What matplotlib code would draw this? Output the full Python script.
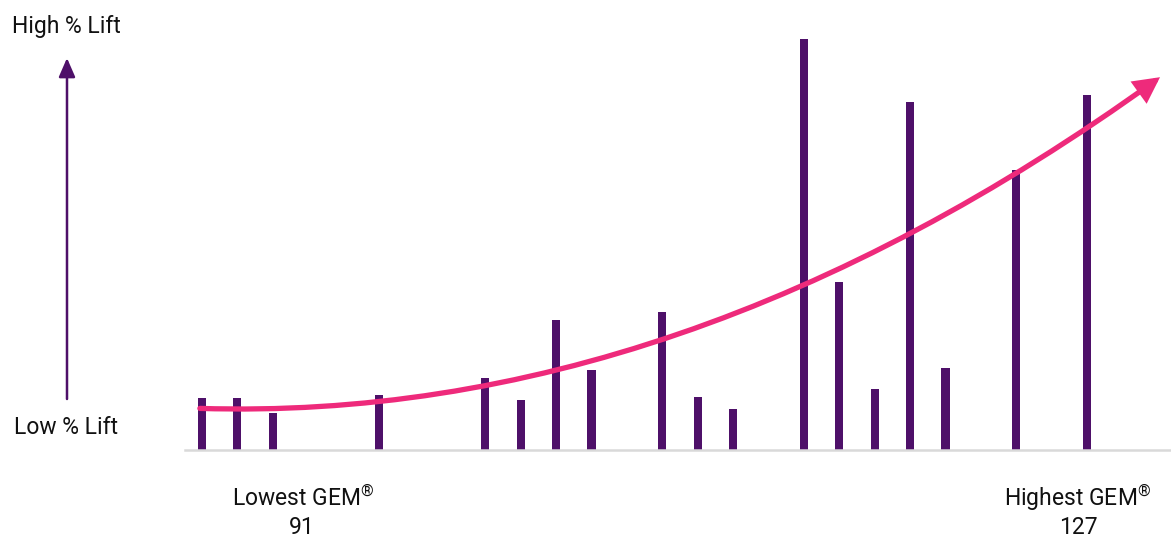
import matplotlib
matplotlib.use("Agg")
import matplotlib.pyplot as plt
from matplotlib.path import Path
from matplotlib.patches import FancyArrowPatch

plt.rcParams['font.family'] = ['Roboto', 'DejaVu Sans']
plt.rcParams['mathtext.fontset'] = 'custom'
plt.rcParams['mathtext.rm'] = 'Roboto'
plt.rcParams['mathtext.it'] = 'Roboto'
plt.rcParams['mathtext.bf'] = 'Roboto'

# Data (positions along GEM scale, relative lift heights)
bar_pos = [0, 1, 2, 5, 8, 9, 10, 11, 13, 14, 15, 17, 18, 19, 20, 21, 23, 25]
bar_lift = [52, 52, 37, 55, 72, 50, 130, 80, 138, 53, 41, 411, 168, 61, 348, 82, 280, 355]

# Trend curve (quadratic): start, control, end points
trend_start = (-0.06, 41.6)
trend_ctrl = (13.5, 26.6)
trend_end = (27.06, 372.8)

left_label = ["Lowest GEM$^{®}$", "91"]
right_label = ["Highest GEM$^{®}$", "127"]
y_high = "High % Lift"
y_low = "Low % Lift"

PURPLE = "#4E1069"
PINK = "#EE2A7B"

W, H = 1171, 539
fig = plt.figure(figsize=(W / 100, H / 100), dpi=100)
ax = fig.add_axes([185 / W, (H - 450) / H, 986 / W, 450 / H])
ax.set_xlim(-0.48, 27.37)
ax.set_ylim(0, 450)

ax.bar(bar_pos, bar_lift, width=0.23, color=PURPLE, zorder=2)

curve = Path([trend_start, trend_ctrl, trend_end],
             [Path.MOVETO, Path.CURVE3, Path.CURVE3])
curve_px = ax.transData.transform_path(curve)
arrow = FancyArrowPatch(path=curve_px, transform=None,
                        arrowstyle="-|>,head_length=5,head_width=2.6",
                        mutation_scale=2.6, color=PINK, lw=3.8,
                        capstyle='round', joinstyle='miter', zorder=3)
fig.patches.append(arrow)

for s in ['top', 'right', 'left']:
    ax.spines[s].set_visible(False)
ax.spines['bottom'].set_color('#D9D9D9')
ax.spines['bottom'].set_linewidth(1.8)
ax.set_xticks([])
ax.set_yticks([])
ax.patch.set_alpha(0)

# Vertical lift arrow
fig.patches.append(FancyArrowPatch(
    (67 / W, 1 - 399 / H), (67 / W, 1 - 58 / H), transform=fig.transFigure,
    arrowstyle="-|>,head_length=4.6,head_width=2.0", color=PURPLE, lw=1.8,
    shrinkA=0, shrinkB=0, mutation_scale=2.5))

fs = 16.5
tc = '#111111'
fig.text(12 / W, 1 - 27 / H, y_high, fontsize=fs, ha='left', va='center', color=tc)
fig.text(14 / W, 1 - 427 / H, y_low, fontsize=fs, ha='left', va='center', color=tc)
fig.text(303 / W, 1 - 498 / H, left_label[0], fontsize=fs, ha='center', va='center', color=tc)
fig.text(302 / W, 1 - 527 / H, left_label[1], fontsize=fs, ha='center', va='center', color=tc)
fig.text(1078 / W, 1 - 498 / H, right_label[0], fontsize=fs, ha='center', va='center', color=tc)
fig.text(1078 / W, 1 - 527 / H, right_label[1], fontsize=fs, ha='center', va='center', color=tc)

fig.savefig("out.png", dpi=100, facecolor='white')
